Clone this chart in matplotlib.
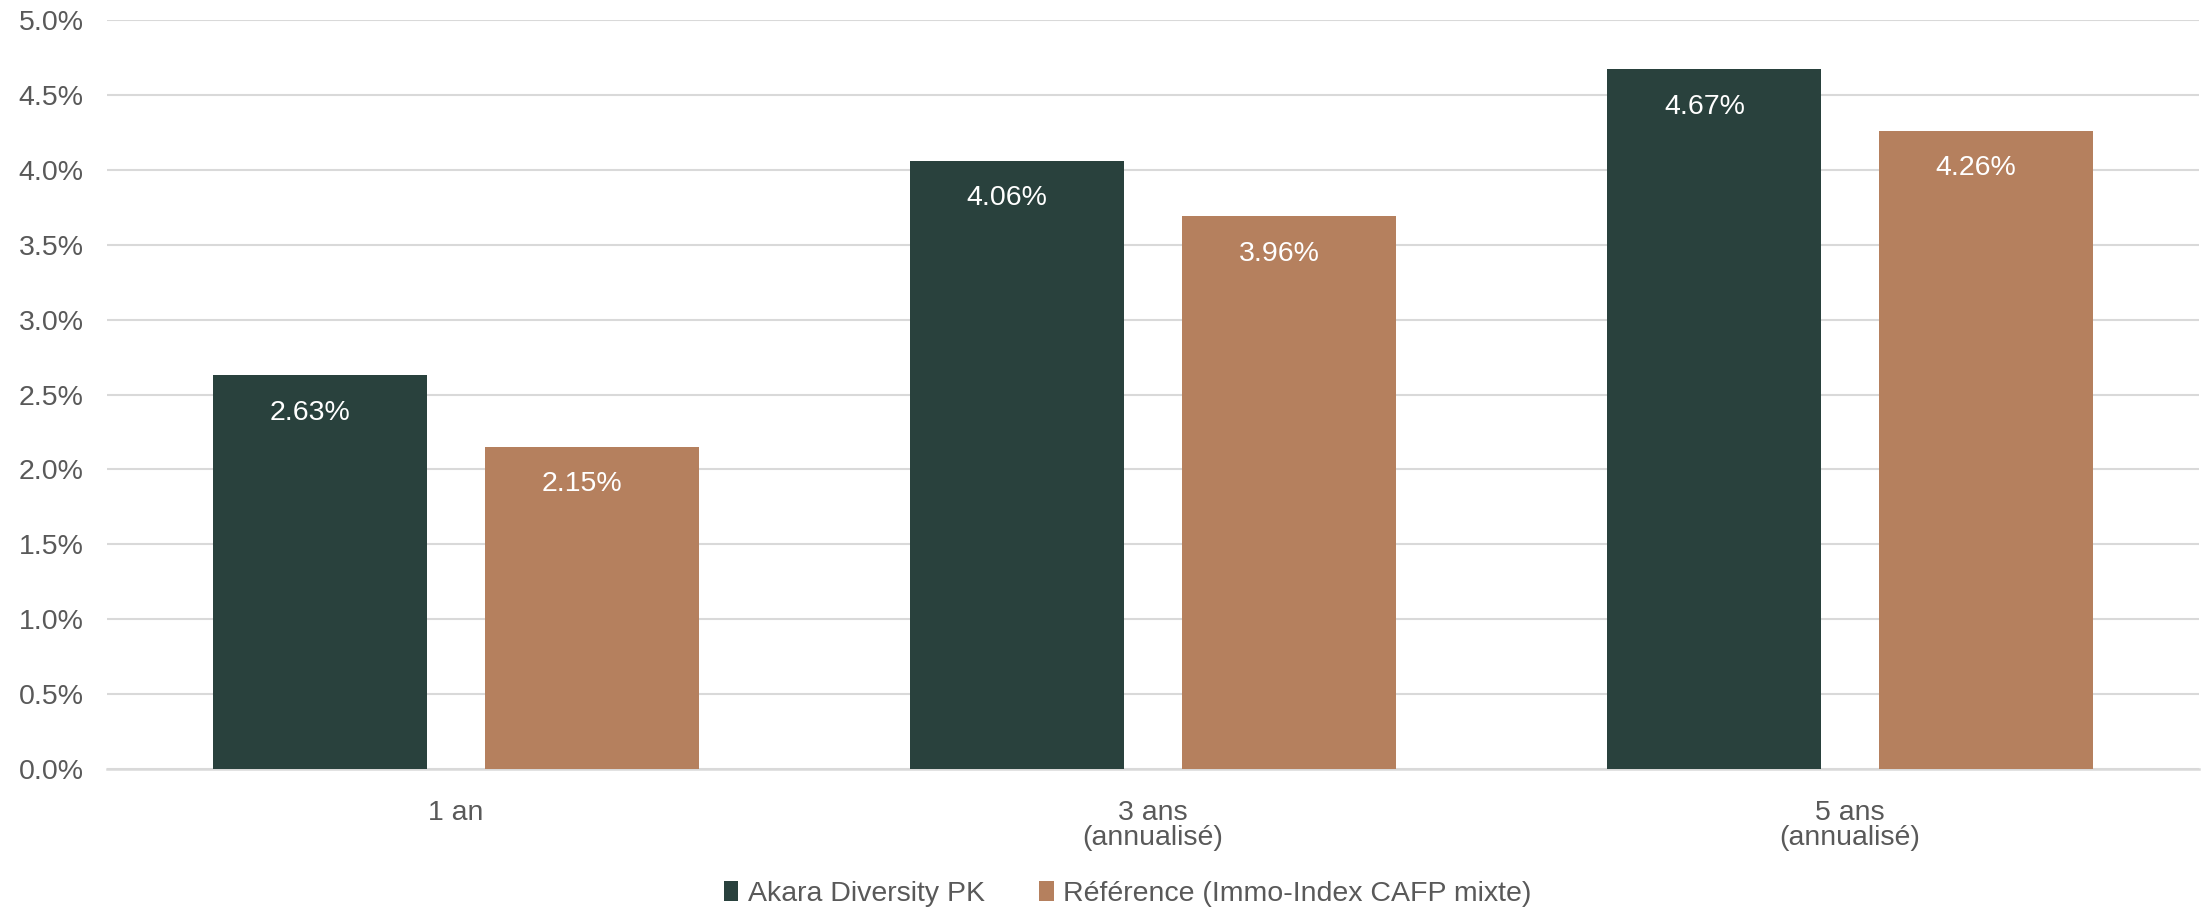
import matplotlib.pyplot as plt
import numpy as np

plt.rcParams['font.family'] = ['Liberation Sans', 'DejaVu Sans']

categories = ['1 an', '3 ans\n(annualisé)', '5 ans\n(annualisé)']
series_names = ['Akara Diversity PK', 'Référence (Immo-Index CAFP mixte)']
akara_values = [2.63, 4.06, 4.67]
reference_values = [2.15, 3.69, 4.26]
akara_labels = ['2.63%', '4.06%', '4.67%']
reference_labels = ['2.15%', '3.96%', '4.26%']
y_ticks = [0.0, 0.5, 1.0, 1.5, 2.0, 2.5, 3.0, 3.5, 4.0, 4.5, 5.0]

dark = '#29413D'
copper = '#B5805E'
grey_text = '#595959'
grid_col = '#D9D9D9'
fs = 20.5

fig = plt.figure(figsize=(22.03, 9.07), dpi=100)
ax = fig.add_axes([0.0486, 0.152, 0.9494, 0.826])

x = np.arange(len(categories))
width = 0.307
offset = 0.195

bars_a = ax.bar(x - offset, akara_values, width, color=dark, label=series_names[0], zorder=3)
bars_r = ax.bar(x + offset, reference_values, width, color=copper, label=series_names[1], zorder=3)

# data labels inside the bars, near the top
for bars, labels in ((bars_a, akara_labels), (bars_r, reference_labels)):
    for b, txt in zip(bars, labels):
        ax.annotate(txt, (b.get_x() + b.get_width() / 2, b.get_height()),
                    xytext=(-7, -27), textcoords='offset points',
                    ha='center', va='center', color='white', fontsize=fs, zorder=4)

ax.set_xlim(-0.5, 2.5)
ax.set_ylim(0, 5.0)
ax.set_yticks(y_ticks)
ax.set_yticklabels([f'{v:.1f}%' for v in y_ticks])
ax.set_xticks(x)
ax.set_xticklabels(categories, linespacing=0.95)

ax.tick_params(axis='y', length=0, pad=17, labelsize=fs, labelcolor=grey_text)
ax.tick_params(axis='x', length=0, pad=22.5, labelsize=fs, labelcolor=grey_text)

ax.grid(axis='y', color=grid_col, linewidth=1.5, zorder=0)
for side in ('top', 'right', 'left'):
    ax.spines[side].set_visible(False)
ax.spines['bottom'].set_color(grid_col)
ax.spines['bottom'].set_linewidth(1.8)

leg = fig.legend(loc='center', bbox_to_anchor=(0.512, 1 - 894 / 907), ncol=2,
                 frameon=False, fontsize=fs, handlelength=0.5, handleheight=0.7,
                 handletextpad=0.35, columnspacing=1.9)
for t in leg.get_texts():
    t.set_color(grey_text)

fig.savefig('out.png', dpi=100)
plt.close(fig)
